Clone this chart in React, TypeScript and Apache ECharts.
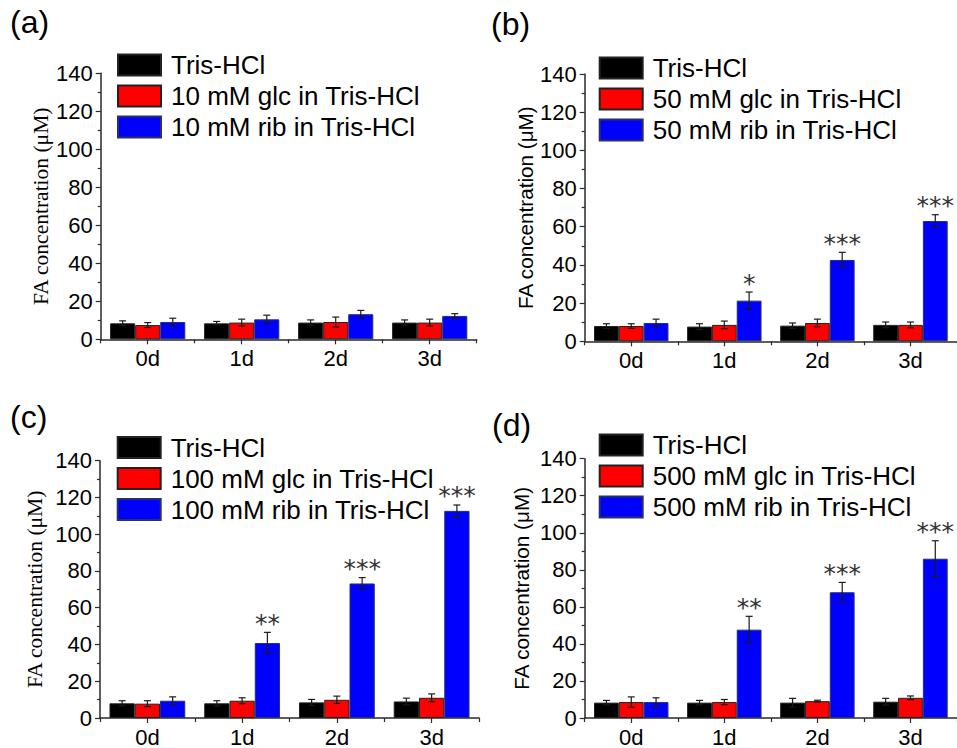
import React, { useEffect, useRef } from "react";
import * as echarts from "echarts";

// ---------- data ----------
const categories = ["0d", "1d", "2d", "3d"];
const panelLabels = ["(a)", "(b)", "(c)", "(d)"];
const doses = ["10", "50", "100", "500"];
const yTicks = [0, 20, 40, 60, 80, 100, 120, 140];

// panel (a) 10 mM
const trisA = [8.4, 8.4, 8.8, 8.8];
const trisErrA = [1.3, 1.0, 1.4, 1.4];
const glcA = [7.5, 8.8, 9.1, 8.8];
const glcErrA = [1.3, 1.8, 2.6, 1.8];
const ribA = [9.1, 10.5, 13.2, 12.3];
const ribErrA = [2.0, 2.2, 2.0, 1.2];
const starsA = ["", "", "", ""];

// panel (b) 50 mM
const trisB = [8.0, 7.7, 8.2, 8.6];
const trisErrB = [1.2, 1.5, 1.4, 1.5];
const glcB = [8.0, 8.6, 9.6, 8.6];
const glcErrB = [1.2, 2.0, 2.0, 1.5];
const ribB = [9.6, 21.3, 42.6, 63.0];
const ribErrB = [2.0, 4.5, 4.0, 3.3];
const starsB = ["", "*", "***", "***"];

// panel (c) 100 mM
const trisC = [8.0, 8.0, 8.5, 9.0];
const trisErrC = [1.4, 1.4, 1.6, 1.8];
const glcC = [7.8, 9.4, 9.9, 11.0];
const glcErrC = [1.6, 1.6, 2.0, 2.1];
const ribC = [9.4, 40.8, 73.2, 112.7];
const ribErrC = [2.1, 5.8, 3.2, 3.2];
const starsC = ["", "**", "***", "***"];

// panel (d) 500 mM
const trisD = [8.3, 8.3, 8.3, 8.8];
const trisErrD = [1.2, 1.2, 2.3, 1.8];
const glcD = [8.6, 8.6, 9.1, 10.9];
const glcErrD = [2.8, 1.4, 0.5, 1.0];
const ribD = [8.6, 47.7, 67.9, 86.0];
const ribErrD = [2.3, 7.2, 5.3, 9.7];
const starsD = ["", "**", "***", "***"];

const panelData = [
  { tris: trisA, trisErr: trisErrA, glc: glcA, glcErr: glcErrA, rib: ribA, ribErr: ribErrA, stars: starsA, serif: true },
  { tris: trisB, trisErr: trisErrB, glc: glcB, glcErr: glcErrB, rib: ribB, ribErr: ribErrB, stars: starsB, serif: false },
  { tris: trisC, trisErr: trisErrC, glc: glcC, glcErr: glcErrC, rib: ribC, ribErr: ribErrC, stars: starsC, serif: true },
  { tris: trisD, trisErr: trisErrD, glc: glcD, glcErr: glcErrD, rib: ribD, ribErr: ribErrD, stars: starsD, serif: false },
];

// ---------- layout ----------
const gridBoxes = [
  { left: 100.7, top: 73.3, width: 376, height: 266 },
  { left: 584.7, top: 74, width: 377.6, height: 267.3 },
  { left: 100, top: 460.7, width: 379, height: 263.3 },
  { left: 584.7, top: 458.7, width: 378, height: 265.3 },
];
const legendPos = [
  { left: 117, top: 52 },
  { left: 598.7, top: 55 },
  { left: 116.7, top: 434.5 },
  { left: 598.7, top: 432 },
];
const labelPos = [
  { x: 10, y: 6 },
  { x: 491, y: 8 },
  { x: 10, y: 401 },
  { x: 492, y: 409 },
];
const nameGaps = [49, 49, 54, 53];

const COLORS = ["#000000", "#ff0000", "#0000ff"];
const SANS = "'Liberation Sans', Arial, sans-serif";
const SERIF = "'Liberation Serif', 'Times New Roman', serif";
const AXIS_COLOR = "#2a2a2a";

function makeErrorSeries(p: number, k: number, means: number[], errs: number[], stars: string[] | null) {
  return {
    type: "custom",
    name: `err-${p}-${k}`,
    xAxisIndex: p * 2,
    yAxisIndex: p,
    z: 5,
    silent: true,
    data: means.map((m, i) => [i, m, errs[i]]),
    renderItem: (params: any, api: any) => {
      const cat = api.value(0);
      const mean = api.value(1);
      const err = api.value(2);
      const bandW = api.size([1, 0])[0];
      const bw = (bandW * 0.8) / 3;
      const x = api.coord([cat, mean])[0] + (k - 1) * bw;
      const yTop = api.coord([cat, mean + err])[1];
      const yBot = api.coord([cat, mean - err])[1];
      const cap = 3.5;
      const st = { stroke: "#1a1a1a", lineWidth: 1.2 };
      const children: any[] = [
        { type: "line", shape: { x1: x, y1: yTop, x2: x, y2: yBot }, style: st },
        { type: "line", shape: { x1: x - cap, y1: yTop, x2: x + cap, y2: yTop }, style: st },
        { type: "line", shape: { x1: x - cap, y1: yBot, x2: x + cap, y2: yBot }, style: st },
      ];
      const s = stars ? stars[params.dataIndex] : "";
      if (s) {
        children.push({
          type: "text",
          x: x,
          y: yTop - 9,
          style: {
            text: s,
            fill: "#333",
            font: `25px 'DejaVu Sans', sans-serif`,
            align: "center",
            verticalAlign: "middle",
          },
        });
      }
      return { type: "group", children };
    },
  };
}

export default function App() {
  const ref = useRef<HTMLDivElement>(null);
  useEffect(() => {
    if (!ref.current) return;
    const chart = echarts.init(ref.current, null, { renderer: "svg" });

    const grid: any[] = [];
    const xAxis: any[] = [];
    const yAxis: any[] = [];
    const series: any[] = [];
    const legend: any[] = [];
    const graphic: any[] = [];

    panelData.forEach((pd, p) => {
      grid.push({ ...gridBoxes[p], containLabel: false });
      const names = ["Tris-HCl", `${doses[p]} mM glc in Tris-HCl`, `${doses[p]} mM rib in Tris-HCl`];
      // main category axis
      xAxis.push({
        type: "category",
        gridIndex: p,
        data: categories,
        position: "bottom",
        axisLine: { show: true, lineStyle: { color: AXIS_COLOR, width: 1.5 } },
        axisTick: { show: true, alignWithLabel: true, length: 5, lineStyle: { color: AXIS_COLOR, width: 1.2 } },
        axisLabel: { show: true, color: "#000", fontSize: 22, fontFamily: SANS, margin: 8 },
        splitLine: { show: false },
      });
      // boundary ticks
      xAxis.push({
        type: "category",
        gridIndex: p,
        data: categories,
        position: "bottom",
        axisLine: { show: false },
        axisTick: { show: true, length: 4, lineStyle: { color: AXIS_COLOR, width: 1.2 } },
        axisLabel: { show: false },
        splitLine: { show: false },
      });
      yAxis.push({
        type: "value",
        gridIndex: p,
        min: 0,
        max: 140,
        interval: 20,
        name: "FA concentration (μM)",
        nameLocation: "middle",
        nameGap: nameGaps[p],
        nameTextStyle: { fontFamily: pd.serif ? SERIF : SANS, fontSize: pd.serif ? 21.5 : 20.7, color: "#000" },
        axisLine: { show: true, lineStyle: { color: AXIS_COLOR, width: 1.5 } },
        axisTick: { show: true, length: 5, lineStyle: { color: AXIS_COLOR, width: 1.2 } },
        minorTick: { show: true, splitNumber: 2, length: 3, lineStyle: { color: AXIS_COLOR, width: 1.2 } },
        axisLabel: {
          color: "#000",
          fontSize: 22,
          fontFamily: SANS,
          margin: 8,
          formatter: (v: number) => (yTicks.includes(v) ? String(v) : ""),
        },
        splitLine: { show: false },
      });
      const means = [pd.tris, pd.glc, pd.rib];
      const errs = [pd.trisErr, pd.glcErr, pd.ribErr];
      means.forEach((m, k) => {
        series.push({
          type: "bar",
          name: names[k],
          xAxisIndex: p * 2,
          yAxisIndex: p,
          data: m,
          barGap: "0%",
          barCategoryGap: "20%",
          itemStyle: { color: COLORS[k], borderColor: k === 2 ? "#27306a" : "#222", borderWidth: 1 },
        });
      });
      means.forEach((m, k) => {
        series.push(makeErrorSeries(p, k, m, errs[k], k === 2 ? pd.stars : null));
      });
      legend.push({
        data: names,
        orient: "vertical",
        left: legendPos[p].left,
        top: legendPos[p].top,
        icon: "rect",
        itemWidth: 43,
        itemHeight: 21,
        itemGap: 5,
        selectedMode: false,
        padding: 0,
        textStyle: { fontSize: 26, fontFamily: SANS, color: "#000", padding: [0, 0, 0, 5] },
      });
      graphic.push({
        type: "text",
        left: labelPos[p].x,
        top: labelPos[p].y,
        style: { text: panelLabels[p], fill: "#000", font: `32px ${SANS}` },
      });
    });

    chart.setOption({
      animation: false,
      backgroundColor: "#ffffff",
      grid,
      xAxis,
      yAxis,
      series,
      legend,
      graphic,
    });
    return () => chart.dispose();
  }, []);

  return (
    <div
      ref={ref}
      style={{ position: "fixed", left: 0, top: 0, width: 957, height: 748, background: "#fff" }}
    />
  );
}
